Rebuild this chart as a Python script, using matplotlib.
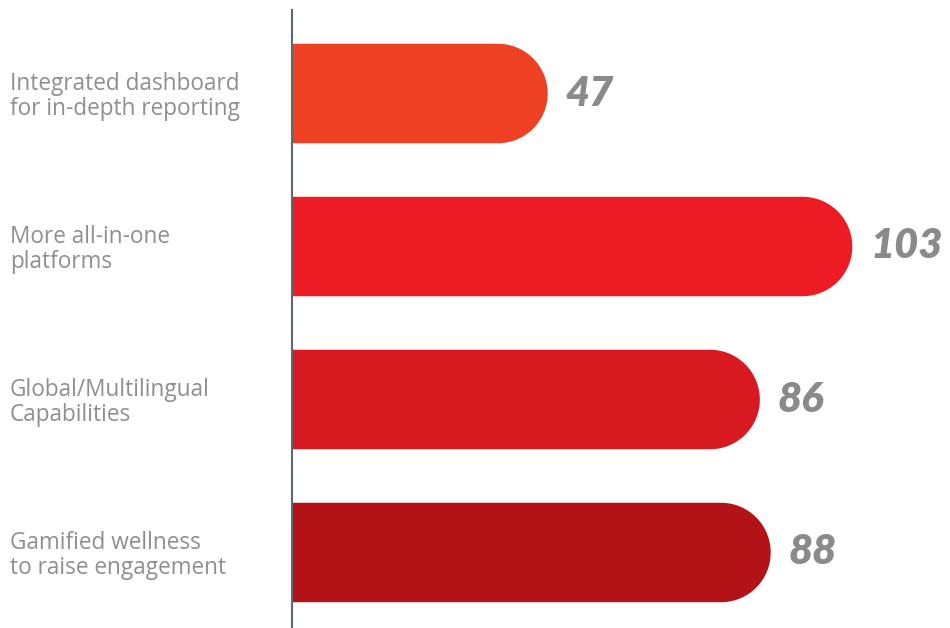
import numpy as np
import matplotlib
matplotlib.use("Agg")
import matplotlib.pyplot as plt
from matplotlib.path import Path
from matplotlib.patches import PathPatch

categories = [
    "Integrated dashboard\nfor in-depth reporting",
    "More all-in-one\nplatforms",
    "Global/Multilingual\nCapabilities",
    "Gamified wellness\nto raise engagement",
]
values = [47, 103, 86, 88]
colors = ["#EE4023", "#ED1C24", "#D71920", "#B31217"]

W, H, DPI = 950, 628, 100
fig = plt.figure(figsize=(W / DPI, H / DPI), dpi=DPI)
fig.patch.set_facecolor("white")

left_px, top_px = 292, 10
ax = fig.add_axes([left_px / W, 0, 1 - left_px / W, (H - top_px) / H])

px_per_unit = 5.44
xmax = (W - left_px) / px_per_unit
ax.set_xlim(0, xmax)
spacing_px = 153.0
yrange = (H - top_px) / spacing_px
ytop = -(93.5 - top_px) / spacing_px
ax.set_ylim(ytop + yrange, ytop)

bar_h = 0.65
# radius of the rounded end in x data units (half the bar height in pixels)
r_px = bar_h * spacing_px / 2
r_x = r_px / px_per_unit

cap_t = np.linspace(-np.pi / 2, np.pi / 2, 60)
for i, (v, c) in enumerate(zip(values, colors)):
    xc = v - r_x
    y0, y1 = i - bar_h / 2, i + bar_h / 2
    verts = [(0, y0), (xc, y0)]
    verts += [(xc + r_x * np.cos(t), i + (bar_h / 2) * np.sin(t)) for t in cap_t]
    verts += [(0, y1), (0, y0)]
    codes = [Path.MOVETO] + [Path.LINETO] * (len(verts) - 2) + [Path.CLOSEPOLY]
    ax.add_patch(PathPatch(Path(verts, codes), facecolor=c, edgecolor="none"))
    ax.text(v + 18 / px_per_unit, i, str(v), ha="left", va="center",
            fontsize=30, fontweight="heavy", fontstyle="italic",
            family="Lato", color="#8a8a8a")

for i, lab in enumerate(categories):
    y_px = top_px + (-ytop + i) * spacing_px + 3
    fig.text(10 / W, 1 - y_px / H, lab,
             ha="left", va="center", fontsize=16.3, family="Open Sans",
             color="#8f8f8f", linespacing=1.05)

for s in ["top", "right", "bottom"]:
    ax.spines[s].set_visible(False)
ax.spines["left"].set_color("#5f6770")
ax.spines["left"].set_linewidth(1.5)
ax.set_xticks([])
ax.set_yticks([])
ax.patch.set_alpha(0)

fig.savefig("out.png", dpi=DPI, facecolor="white")
